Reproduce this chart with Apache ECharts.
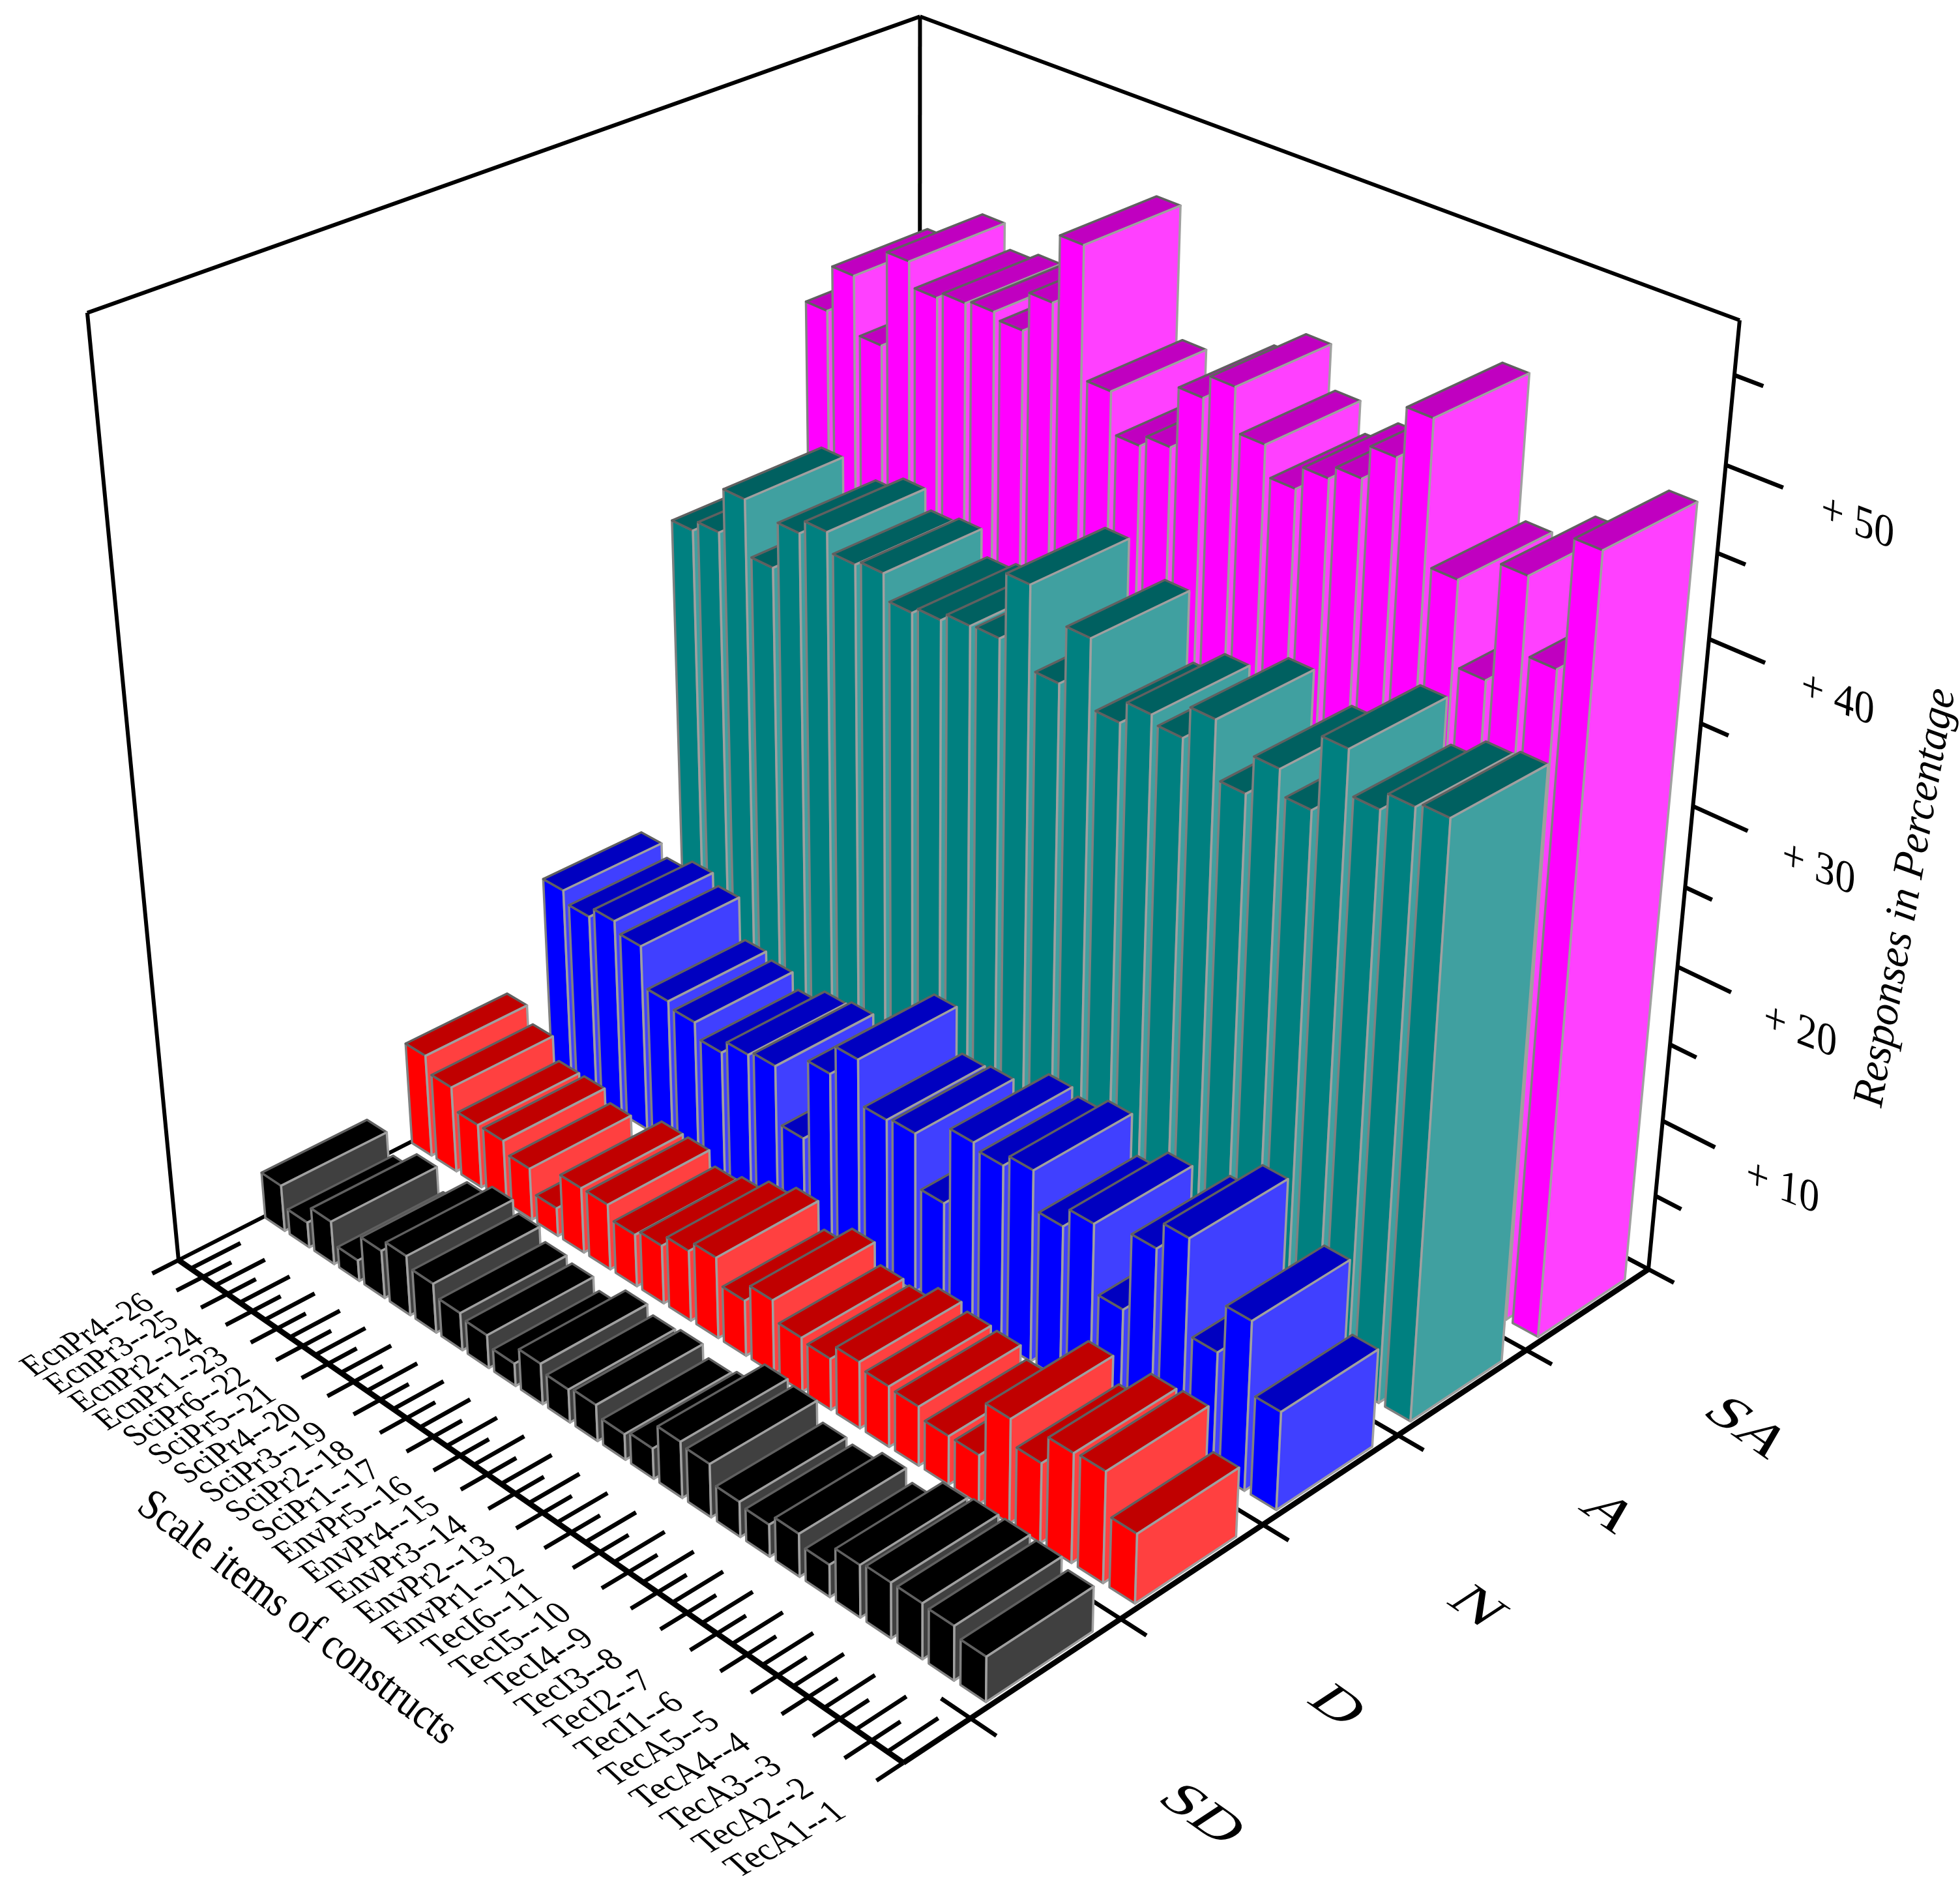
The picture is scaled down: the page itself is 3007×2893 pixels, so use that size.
<!DOCTYPE html>
<html><head><meta charset="utf-8">
<style>html,body{margin:0;padding:0;background:#fff}#c{width:3007px;height:2893px}</style>
<script src="https://cdn.jsdelivr.net/npm/echarts@6/dist/echarts.min.js"></script>
</head><body><div id="c"></div>
<script>
// ---- data ----
const itemLabels = ['TecA1--1','TecA2--2','TecA3--3','TecA4--4','TecA5--5','TecI1--6','TecI2--7','TecI3--8','TecI4--9','TecI5--10','TecI6--11','EnvPr1--12','EnvPr2--13','EnvPr3--14','EnvPr4--15','EnvPr5--16','SciPr1--17','SciPr2--18','SciPr3--19','SciPr4--20','SciPr5--21','SciPr6--22','EcnPr1--23','EcnPr2--24','EcnPr3--25','EcnPr4--26'];
const scaleLabels = ['SD','D','N','A','SA'];
const valueTicks = [10,20,30,40,50];
const minorTicks = [5,15,25,35,45,55];
const valuesSD = [2.9,3.5,3.6,3.6,3.4,2.1,2.8,2.1,2.3,3.5,3.7,2.0,1.7,2.4,2.2,2.7,1.5,2.2,2.5,3.3,4.0,3.2,1.4,2.9,1.7,3.1];
const valuesD  = [4.5,7.2,7.1,5.2,6.8,3.2,3.2,3.9,4.0,4.4,3.4,3.6,4.9,3.7,5.4,4.7,3.9,3.5,4.4,4.4,1.9,3.5,4.3,4.3,5.8,6.9];
const valuesN  = [6.4,11.0,7.8,13.9,12.1,7.0,11.4,10.1,12.6,11.8,12.2,7.1,10.6,10.4,13.3,11.3,5.9,9.7,9.4,8.5,9.5,9.9,12.6,13.3,12.6,13.4];
const valuesA  = [37.4,37.1,36.0,38.6,34.1,35.6,33.2,36.7,34.7,35.2,33.8,38.0,34.4,39.5,35.4,35.3,34.8,34.4,36.0,35.7,36.9,36.0,33.0,36.5,33.6,32.9];
const valuesSA = [48.4,40.8,45.3,38.4,43.4,51.8,48.8,46.8,46.0,44.6,46.4,49.0,47.6,43.9,43.2,45.7,53.6,49.5,47.1,47.5,47.3,46.9,48.4,42.5,46.1,43.2];
const seriesValues = [valuesSD,valuesD,valuesN,valuesA,valuesSA];
const palette = [
 {narrow:'#000000',wide:'#404040',top:'#000000'},
 {narrow:'#ff0000',wide:'#ff4040',top:'#c00000'},
 {narrow:'#0000ff',wide:'#4040ff',top:'#0000c0'},
 {narrow:'#008080',wide:'#40a0a0',top:'#006060'},
 {narrow:'#ff00ff',wide:'#ff40ff',top:'#c000c0'}];

// ---- perspective scale: (item position, scale position, value) -> page axes ----
const U_MAX=26, V_MIN=-0.43, V_MAX=5, Z_MAX=58;
function project(u,v,z){
  const a=u/U_MAX, b=(v-V_MIN)/(V_MAX-V_MIN), c=z/Z_MAX;
  const w=1+0.15415*a+0.15107*b-0.12734*c;
  return [(1386-1069.8*a+1525*b-178.7*c)/w,(2704-473.1*a-462.9*b-1738.2*c)/w];
}
const BAR_U=[0.14,0.94], BAR_V=[0.13,0.84];
const stroke={narrow:'#808080',top:'#606060',wide:'#a0a0a0'};

function poly(api,pts,fill,line){
  return {type:'polygon',shape:{points:pts.map(p=>api.coord(p))},
    style:{fill:fill,stroke:line,lineWidth:3.5,lineJoin:'round'}};
}
function barSeries(s){
  const order=seriesValues[s].map((v,i)=>[i,v]).reverse();
  return {type:'custom',coordinateSystem:'cartesian2d',clip:false,silent:true,name:scaleLabels[s],
    data:order,
    encode:{x:0,y:1},
    renderItem:function(params,api){
      const i=api.value(0), z=api.value(1), col=palette[s];
      const u0=i+BAR_U[0],u1=i+BAR_U[1],v0=s+BAR_V[0],v1=s+BAR_V[1];
      const A=project(u0,v0,0),B=project(u1,v0,0),C=project(u0,v1,0);
      const At=project(u0,v0,z),Bt=project(u1,v0,z),Ct=project(u0,v1,z),Dt=project(u1,v1,z);
      return {type:'group',children:[
        poly(api,[B,A,At,Bt],col.narrow,stroke.narrow),
        poly(api,[At,Bt,Dt,Ct],col.top,stroke.top),
        poly(api,[A,C,Ct,At],col.wide,stroke.wide)
      ]};
    }};
}
// ---- frame, ticks ----
const segs=[];
function seg(p,q,w){segs.push({p:p,q:q,w:w});}
const W=[U_MAX,V_MIN],X=[0,V_MIN],Y=[0,V_MAX],B3=[U_MAX,V_MAX];
const WALL=6,TICK=6.5,AXIS=8.5;
seg([...W,0],[...B3,0],WALL);seg([...Y,0],[...B3,0],WALL);seg([...B3,0],[...B3,Z_MAX],WALL);
seg([...W,0],[...W,Z_MAX],WALL);seg([...Y,0],[...Y,Z_MAX],WALL);
seg([...W,Z_MAX],[...B3,Z_MAX],WALL);seg([...Y,Z_MAX],[...B3,Z_MAX],WALL);
seg([...X,0],[...W,0],AXIS);seg([...X,0],[...Y,0],AXIS);
for(let k=0;k<=U_MAX;k++){
  seg([k,V_MIN-0.17,0],[k,V_MIN+(k===0||k===U_MAX?0:0.185),0],TICK);
  if(k<U_MAX) seg([k+0.5,V_MIN,0],[k+0.5,V_MIN+0.325,0],TICK);
}
for(let k=0;k<=5;k++) seg([0.92,k,0],[-0.8,k,0],TICK);
valueTicks.forEach(z=>seg([0,V_MAX,z],[-1.6,V_MAX,z],TICK));
minorTicks.forEach(z=>seg([0,V_MAX,z],[-0.8,V_MAX,z],TICK));

const frameSeries={type:'custom',coordinateSystem:'cartesian2d',clip:false,silent:true,
  data:segs.map((s,i)=>[i,0]),encode:{x:0,y:1},
  renderItem:function(params,api){
    const s=segs[api.value(0)],a=api.coord(project(...s.p)),b=api.coord(project(...s.q));
    return {type:'line',shape:{x1:a[0],y1:a[1],x2:b[0],y2:b[1]},style:{stroke:'#000',lineWidth:s.w,lineCap:'butt'}};
  }};

// ---- text ----
const texts=[];
function label(str,pos,deg,size,extra){texts.push(Object.assign({str:str,pos:pos,deg:deg,size:size},extra||{}));}
itemLabels.forEach((t,i)=>{const p=project(i,V_MIN-0.72,0);label(t,[p[0]-2,p[1]+1],30,54-4*i/25,{sx:0.94,skew:0.3});});
const scaleShift=[[-6,0],[-25,-6],[-25,-6],[-25,-6],[-6,0]];
scaleLabels.forEach((t,s)=>{
  const p=project(-5.7,s+0.29,0);
  label(t,[p[0]+scaleShift[s][0],p[1]+scaleShift[s][1]],-35,76,{sx:1.3,skew:-0.38});
});
valueTicks.forEach(z=>{const p=project(-3.7,V_MAX,z);label('+ '+z,[p[0]-4,p[1]+8],-21,66,{skew:0.3});});
label('Scale items of constructs',[455,2483],-37.4,68,{sx:0.88});
label('Responses in Percentage',[2925,1377],80,68,{italic:true,sx:0.96});

const textSeries={type:'custom',coordinateSystem:'cartesian2d',clip:false,silent:true,
  data:texts.map((t,i)=>[i,0]),encode:{x:0,y:1},
  renderItem:function(params,api){
    const t=texts[api.value(0)],c=api.coord(t.pos);
    return {type:'text',x:c[0],y:c[1],rotation:t.deg*Math.PI/180,scaleX:t.sx||1,skewX:t.skew||0,
      style:{text:t.str,fontSize:t.size,fontFamily:'"Liberation Serif"',fontStyle:t.italic?'italic':'normal',
        fill:'#000',align:'center',verticalAlign:'middle'}};
  }};

const chart=echarts.init(document.getElementById('c'),null,{renderer:'canvas'});
chart.setOption({
  animation:false,backgroundColor:'#ffffff',
  grid:{left:0,right:0,top:0,bottom:0},
  xAxis:{type:'value',min:0,max:3007,show:false},
  yAxis:{type:'value',min:0,max:2893,inverse:true,show:false},
  series:[frameSeries,barSeries(4),barSeries(3),barSeries(2),barSeries(1),barSeries(0),textSeries]
});
</script></body></html>
